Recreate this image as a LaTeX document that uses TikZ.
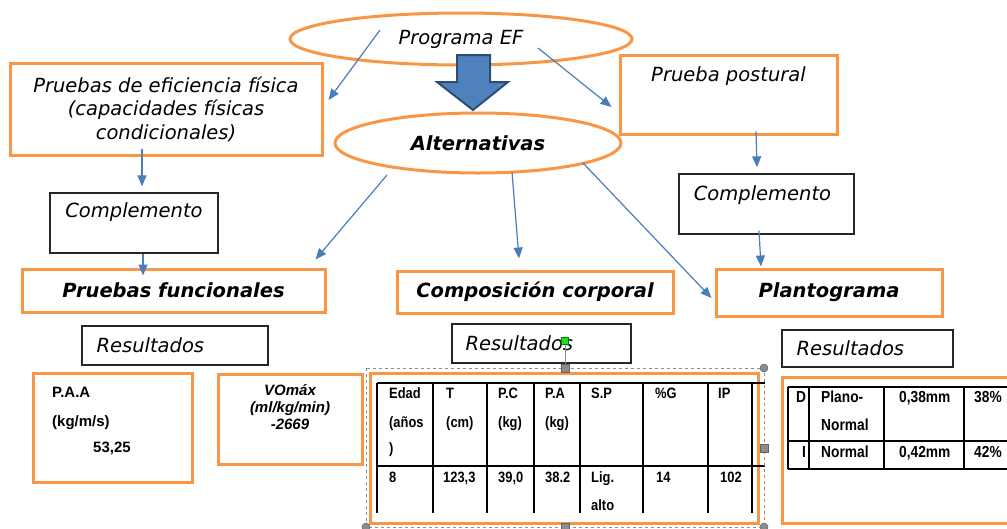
\documentclass[tikz,border=0pt]{standalone}
\usepackage{fontspec}
\setmainfont{DejaVu Sans}
\newfontfamily\arialfont{Liberation Sans}
\newfontfamily\narrowfont[FakeStretch=0.86]{Liberation Sans}
\usetikzlibrary{arrows.meta,shapes.geometric}

\definecolor{boxorange}{HTML}{F79646}
\definecolor{linkblue}{HTML}{4A7EBB}
\definecolor{arrowfill}{HTML}{4F81BD}
\definecolor{arrowedge}{HTML}{2C4D75}
\definecolor{handlegray}{HTML}{8C8C8C}
\definecolor{rotgreen}{HTML}{22DD22}

\tikzset{
  every node/.style={inner sep=0pt},
  obox/.style={draw=boxorange,line width=3pt,rectangle},
  oval/.style={draw=boxorange,line width=3pt,ellipse},
  kbox/.style={draw=black!85,line width=1.3pt,rectangle},
  link/.style={draw=linkblue,line width=1.2pt,-{Triangle[length=11pt,width=9pt]}},
  vtext/.style={font=\fontsize{19.5}{23.5}\selectfont\itshape},
  vhead/.style={font=\fontsize{19.5}{23.5}\selectfont\bfseries\itshape},
  cell/.style={anchor=base west,font=\narrowfont\fontsize{15}{18}\selectfont\bfseries},
  rcell/.style={anchor=base west,font=\narrowfont\fontsize{16}{18}\selectfont\bfseries},
  tabline/.style={draw=black,line width=1.5pt},
  handle/.style={fill=handlegray,draw=handlegray!70!black,line width=0.5pt,minimum size=8pt},
}

\begin{document}
\begin{tikzpicture}[x=1pt,y=-1pt]
  \useasboundingbox (0,0) rectangle (1007,528);
  \clip (0,0) rectangle (1007,528);

  % top: programa and alternativas
  \node[oval,minimum width=342pt,minimum height=52pt,vtext] (prog) at (461,39) {Programa EF};
  \draw[fill=arrowfill,draw=arrowedge,line width=2pt]
    (457,55) -- (490,55) -- (490,82) -- (508,82) -- (473,110) -- (437,82) -- (457,82) -- cycle;
  \node[oval,minimum width=286pt,minimum height=60pt,vhead] (alt) at (478,143) {Alternativas};

  % left branch
  \node[obox,minimum width=312pt,minimum height=92pt,vtext,align=center] (pef) at (166,109)
    {Pruebas de eficiencia física\\(capacidades físicas\\condicionales)};
  \node[kbox,minimum width=168pt,minimum height=60pt,
        label={[anchor=base,vtext,yshift=-25pt]north:Complemento}] (compL) at (134,223) {};
  \node[obox,minimum width=303pt,minimum height=43pt,vhead] (pfun) at (173.5,290.5) {Pruebas funcionales};

  % right branch
  \node[obox,minimum width=217pt,minimum height=79pt,
        label={[anchor=base,vtext,yshift=-28pt]north:Prueba postural}] (post) at (728.5,94.5) {};
  \node[kbox,minimum width=175pt,minimum height=60pt,
        label={[anchor=base,vtext,yshift=-27pt,xshift=-4pt]north:Complemento}] (compR) at (766.5,204) {};
  \node[obox,minimum width=226pt,minimum height=47pt,vhead] (plant) at (829,292.5) {Plantograma};

  % middle
  \node[obox,minimum width=276pt,minimum height=42pt,vhead] (comp) at (535,292) {Composición corporal};

  % connectors
  \draw[link] ([shift={(-81,-9)}]prog.center) -- ([shift={(5,-9)}]pef.east);
  \draw[link] ([shift={(77,9)}]prog.center) -- ([shift={(-7,12.5)}]post.west);
  \draw[link] ([shift={(-24,-8)}]pef.south) -- ([shift={(8,-6)}]compL.north);
  \draw[link] ([shift={(9,0)}]compL.south) -- ([shift={(-30.5,8)}]pfun.north);
  \draw[link] ([shift={(27.5,-4)}]post.south) -- ([shift={(-9.5,-6)}]compR.north);
  \draw[link] ([shift={(-7.5,-4)}]compR.south) -- ([shift={(-68,-1)}]plant.north);
  \draw[link] ([shift={(-91,32)}]alt.center) -- ([shift={(-11,-8)}]pfun.north east);
  \draw[link] ([shift={(34,29)}]alt.center) -- ([shift={(-16,-11)}]comp.north);
  \draw[link] ([shift={(105,20)}]alt.center) -- ([shift={(-3,5.5)}]plant.west);

  % resultados
  \node[kbox,minimum width=186pt,minimum height=39pt,
        label={[anchor=west,vtext,xshift=15pt]west:Resultados}] (resL) at (175,345.5) {};
  \node[kbox,minimum width=179pt,minimum height=39pt,
        label={[anchor=west,vtext,xshift=14pt]west:Resultados}] (resM) at (541.5,343.5) {};
  \node[kbox,minimum width=171pt,minimum height=37pt,
        label={[anchor=west,vtext,xshift=15pt]west:Resultados}] (resR) at (867.5,348.5) {};

  % left results
  \node[obox,minimum width=159pt,minimum height=109pt] (paa) at (112.5,427.5) {};
  \node[anchor=base west,font=\arialfont\fontsize{15}{18}\selectfont\bfseries] (paa1) at (52,397) {P.A.A};
  \node[anchor=base west,font=\arialfont\fontsize{15}{18}\selectfont\bfseries] (paa2) at (52,426) {(kg/m/s)};
  \node[anchor=base west,font=\arialfont\fontsize{15}{18}\selectfont\bfseries] (paa3) at (93,452) {53,25};
  \node[obox,minimum width=144pt,minimum height=90pt] (vo) at (290,419) {};
  \node[anchor=north,align=center,font=\arialfont\fontsize{15}{17}\selectfont\bfseries\itshape] (vot) at (290,384)
    {VOmáx\\(ml/kg/min)\\-2669};

  % middle table
  \node[obox,minimum width=388pt,minimum height=150pt] (tabM) at (564,448) {};
  \foreach \x in {377,433,487,534,580,643,708,752}
    \draw[tabline] (\x,383) -- (\x,513);
  \draw[tabline] (377,383) -- (765,383) (377,466) -- (765,466);
  \foreach \x/\y/\t [count=\i] in {389/398/Edad, 389/427/(años, 389/453/), 446/398/T, 446/427/(cm),
      498/398/P.C, 498/427/(kg), 545/398/P.A, 545/427/(kg), 591/398/S.P, 655/398/\%G, 718/398/IP,
      389/482/8, 443/482/{123,3}, 498/482/{39,0}, 545/482/38.2, 591/482/Lig., 591/510/alto,
      656/482/14, 720/482/102}
    \node[cell] (m\i) at (\x,\y) {\t};

  % selection marks
  \draw[handlegray,dashed,line width=0.8pt] (366,368) rectangle (764,527);
  \draw[handlegray,line width=1pt] (565,341) -- (565,368);
  \node[handle] (h1) at (565,368) {};
  \node[handle] (h2) at (764,448) {};
  \node[handle] (h3) at (565,527) {};
  \node[handle,circle] (h4) at (764,368) {};
  \node[handle,circle] (h5) at (366,527) {};
  \node[handle,circle] (h6) at (764,527) {};
  \node[fill=rotgreen,draw=green!50!black,line width=0.4pt,minimum size=7pt] (rot) at (565,341) {};

  % right table
  \node[obox,minimum width=230pt,minimum height=146pt] (tabR) at (897,450) {};
  \foreach \x in {788,809,884,964,1040}
    \draw[tabline] (\x,387) -- (\x,469);
  \draw[tabline] (788,387) -- (1010,387) (788,441) -- (1010,441) (788,469) -- (1010,469);
  \foreach \x/\y/\t [count=\i] in {796/402/D, 802/457/I, 821/402/Plano-, 821/430/Normal, 821/457/Normal,
      899/402/{0,38mm}, 899/457/{0,42mm}, 974/402/38\%, 974/457/42\%}
    \node[rcell] (r\i) at (\x,\y) {\t};
\end{tikzpicture}
\end{document}
